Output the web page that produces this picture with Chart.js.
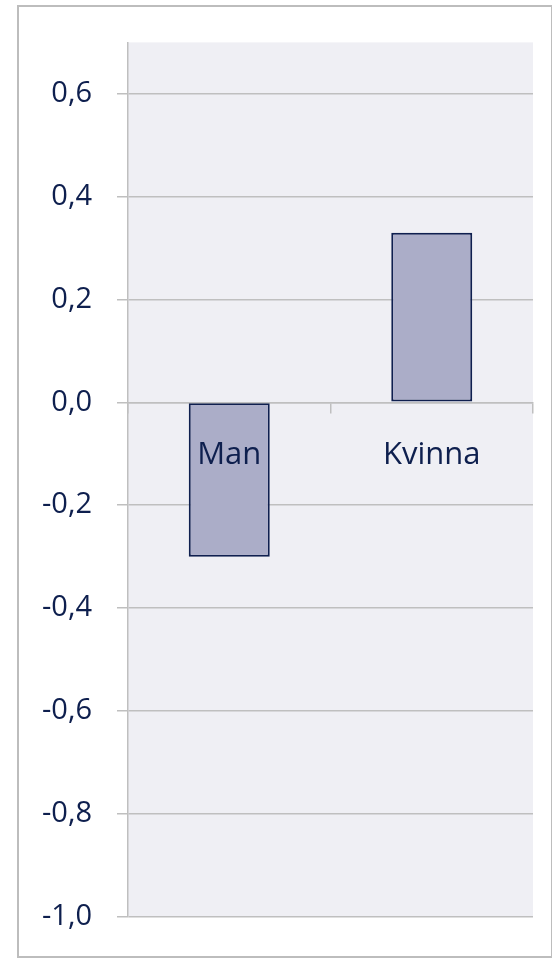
<!DOCTYPE html>
<html>
<head>
<meta charset="utf-8">
<script src="https://cdn.jsdelivr.net/npm/chart.js@4/dist/chart.umd.min.js"></script>
<style>
  html, body { margin: 0; padding: 0; background: #fff; }
  #frame {
    position: absolute; left: 17px; top: 5px;
    width: 532px; height: 949px;
    border: 2px solid #BDBDBD;
  }
  #wrap { position: absolute; left: 0; top: 0; width: 552px; height: 959px; }
</style>
</head>
<body>
<div id="frame"></div>
<div id="wrap"><canvas id="chart"></canvas></div>
<script>
// Data
const categories = ['Man', 'Kvinna'];
const values = [-0.30, 0.33];
const yMin = -1.0;
const yMax = 0.7;
const yStep = 0.2;

const textColor = '#0E1F4E';
const gridColor = '#BFBFBF';

// Plot area background
const plotBg = {
    id: 'plotBg',
    beforeDraw(chart) {
        const { ctx, chartArea: a } = chart;
        ctx.save();
        ctx.fillStyle = '#EFEFF4';
        ctx.fillRect(a.left, a.top, a.right - a.left, a.bottom - a.top);
        ctx.restore();
    }
};

new Chart(document.getElementById('chart'), {
    type: 'bar',
    data: {
        labels: categories,
        datasets: [{
            data: values,
            backgroundColor: '#ABADC8',
            borderColor: '#0F1F4F',
            borderWidth: 2,
            borderSkipped: false,
            barPercentage: 0.4,
            categoryPercentage: 1.0
        }]
    },
    options: {
        responsive: true,
        maintainAspectRatio: false,
        animation: false,
        layout: { padding: { top: 42, bottom: 39, right: 19, left: 0 } },
        plugins: {
            legend: { display: false },
            tooltip: { enabled: false }
        },
        scales: {
            y: {
                min: yMin,
                max: yMax,
                afterBuildTicks(scale) {
                    // keep only the 0,2 steps (no tick at the 0,7 top)
                    scale.ticks = scale.ticks.filter(t => {
                        const k = (t.value - yMin) / yStep;
                        return Math.abs(k - Math.round(k)) < 1e-6;
                    });
                },
                afterFit(scale) { scale.width = 128; },
                grid: {
                    color: gridColor,
                    lineWidth: 1.5,
                    tickLength: 11,
                    drawTicks: true
                },
                border: { display: true, color: gridColor, width: 1.5 },
                ticks: {
                    stepSize: yStep,
                    padding: 25,
                    color: textColor,
                    font: { family: 'Open Sans', size: 29 },
                    callback: v => Number(v).toFixed(1).replace('.', ',')
                }
            },
            x: {
                position: { y: 0 },
                offset: true,
                grid: {
                    offset: true,
                    drawOnChartArea: false,
                    color: gridColor,
                    lineWidth: 1.5,
                    tickLength: 10,
                    z: 1
                },
                border: { display: true, color: gridColor, width: 1.5, z: 1 },
                ticks: {
                    z: 1,
                    padding: 24,
                    color: textColor,
                    font: { family: 'Open Sans', size: 31 }
                }
            }
        }
    },
    plugins: [plotBg]
});
</script>
</body>
</html>
